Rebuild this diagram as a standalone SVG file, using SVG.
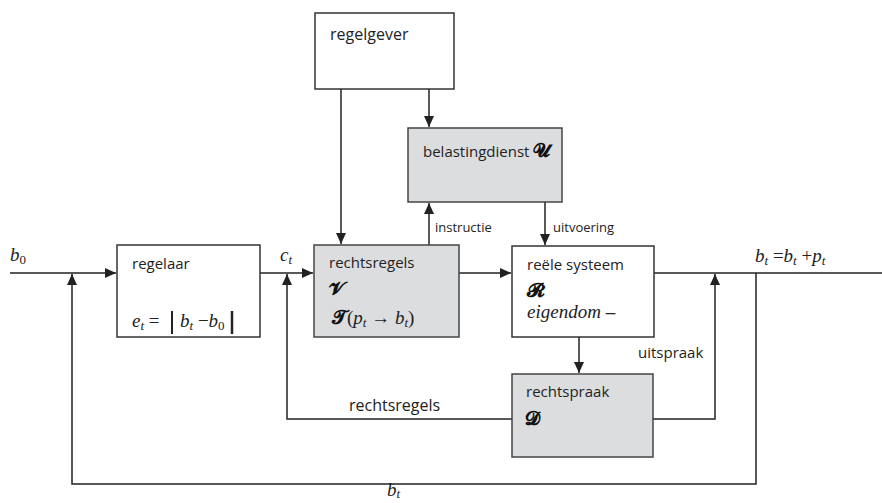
<svg xmlns="http://www.w3.org/2000/svg" width="882" height="503" viewBox="0 0 882 503">
<style>
.box{fill:#ffffff;stroke:#333333;stroke-width:1.5}
.grey{fill:#dcdddf;stroke:#444444;stroke-width:1.5}
.lbl{font-family:"Open Sans","Liberation Sans",sans-serif;font-size:15px;fill:#222222}
.sm{font-family:"Open Sans","Liberation Sans",sans-serif;font-size:13px;fill:#222222}
.m{font-family:"Liberation Serif",serif;font-style:italic;font-weight:normal;font-size:19px;fill:#222222}
.mu{font-family:"Liberation Serif",serif;font-style:normal;font-weight:normal;font-size:19px;fill:#222222}
.sub{font-size:13px}
.scr{font-family:"DejaVu Serif","DejaVu Sans",serif;font-weight:bold;font-size:19px;fill:#111111}
.bar{stroke:#222222;stroke-width:2}
.c{fill:none;stroke:#222222;stroke-width:1.5}
</style>
<defs>
<marker id="ah" markerUnits="userSpaceOnUse" markerWidth="11" markerHeight="10" refX="11" refY="5" orient="auto">
<path d="M0,0 L11,5 L0,10 z" fill="#222222"/>
</marker>
</defs>

<g id="connectors">
<path class="c" d="M10 273 H116" marker-end="url(#ah)"/>
<path class="c" d="M756 273 V484 H72 V274" marker-end="url(#ah)"/>
<path class="c" d="M260 273 H313" marker-end="url(#ah)"/>
<path class="c" d="M512 419 H287 V274" marker-end="url(#ah)"/>
<path class="c" d="M341 89 V244" marker-end="url(#ah)"/>
<path class="c" d="M429 89 V127" marker-end="url(#ah)"/>
<path class="c" d="M429 245 V203" marker-end="url(#ah)"/>
<path class="c" d="M545 202 V245" marker-end="url(#ah)"/>
<path class="c" d="M459 273 H511" marker-end="url(#ah)"/>
<path class="c" d="M579 337 V373" marker-end="url(#ah)"/>
<path class="c" d="M654 273 H882"/>
<path class="c" d="M653 419 H715 V274" marker-end="url(#ah)"/>
<text class="sm" x="435" y="232">instructie</text>
<text class="sm" x="553" y="232">uitvoering</text>
<text class="lbl" x="638" y="358">uitspraak</text>
<text class="lbl" x="349" y="411" style="font-size:16px">rechtsregels</text>
<text class="m" x="10" y="261">b<tspan style="font-style:normal;font-size:13px" dy="3">0</tspan></text>
<text class="m" x="280" y="261">c<tspan class="sub" dy="3">t</tspan></text>
<text class="m" x="755" y="262">b<tspan class="sub" dy="3">t</tspan><tspan class="mu" dy="-3"> =</tspan>b<tspan class="sub" dy="3">t</tspan><tspan class="mu" dy="-3"> +</tspan>p<tspan class="sub" dy="3">t</tspan></text>
<text class="m" x="387" y="496">b<tspan class="sub" dy="2">t</tspan></text>
</g>

<g id="regelgever">
<rect class="box" x="315" y="13" width="139" height="76"/>
<text class="lbl" x="330" y="40" style="font-size:16px">regelgever</text>
</g>

<g id="belastingdienst">
<rect class="grey" x="408" y="128" width="154" height="74"/>
<text class="lbl" x="423" y="157">belastingdienst <tspan class="scr">𝓤</tspan></text>
</g>

<g id="regelaar">
<rect class="box" x="117" y="245" width="143" height="92"/>
<text class="lbl" x="132" y="269">regelaar</text>
<text class="m" x="132" y="327">e<tspan class="sub" dy="3">t</tspan><tspan class="mu" dy="-3"> =</tspan></text>
<line class="bar" x1="172" y1="311" x2="172" y2="334"/>
<text class="m" x="180" y="327">b<tspan class="sub" dy="3">t</tspan><tspan class="mu" dy="-3"> −</tspan>b<tspan style="font-style:normal;font-size:13px" dy="3">0</tspan></text>
<line class="bar" x1="232" y1="311" x2="232" y2="334" style="stroke-width:2.5"/>
</g>

<g id="rechtsregels">
<rect class="grey" x="314" y="245" width="145" height="92"/>
<text class="lbl" x="329" y="268">rechtsregels</text>
<text class="scr" x="329" y="296">𝓥</text>
<text class="scr" x="332" y="324">𝓣<tspan class="mu">(</tspan><tspan class="m">p</tspan><tspan class="m" style="font-size:13px" dy="3">t</tspan><tspan class="mu" dy="-3"> → </tspan><tspan class="m">b</tspan><tspan class="m" style="font-size:13px" dy="3">t</tspan><tspan class="mu" dy="-3">)</tspan></text>
</g>

<g id="reele-systeem">
<rect class="box" x="512" y="246" width="142" height="91"/>
<text class="lbl" x="527" y="270">reële systeem</text>
<text class="scr" x="527" y="297">𝓡</text>
<text class="m" x="527" y="318">eigendom<tspan class="mu" style="font-weight:bold"> –</tspan></text>
</g>

<g id="rechtspraak">
<rect class="grey" x="512" y="374" width="141" height="83"/>
<text class="lbl" x="526" y="397">rechtspraak</text>
<text class="scr" x="525" y="425">𝓓</text>
</g>
</svg>
